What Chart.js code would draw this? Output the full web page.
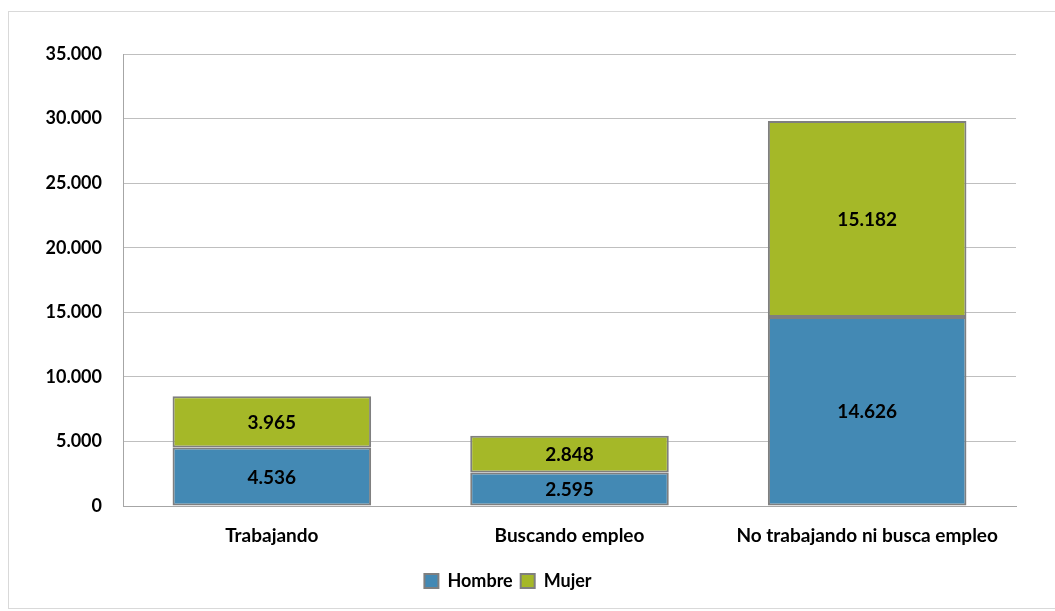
<!DOCTYPE html>
<html>
<head>
<meta charset="utf-8">
<script src="https://cdn.jsdelivr.net/npm/chart.js@4"></script>
<style>
  html, body { margin: 0; padding: 0; background: #fff; }
  body { width: 1055px; height: 611px; position: relative; overflow: hidden; }
  #marco { position: absolute; left: 8px; top: 11px; width: 1100px; height: 596px; border: 1px solid #d9d9d9; }
  #wrap { position: absolute; left: 0; top: 0; width: 1055px; height: 611px; }
</style>
</head>
<body>
<div id="marco"></div>
<div id="wrap"><canvas id="grafico"></canvas></div>
<script>
// ── DATOS ─────────────────────────────────────
const CATEGORIAS = ["Trabajando", "Buscando empleo", "No trabajando ni busca empleo"];
const HOMBRE = [4536, 2595, 14626];
const MUJER  = [3965, 2848, 15182];
const Y_MAX  = 35000;
const Y_PASO = 5000;

const COLORES = {
  hombre: "#4389b4",
  mujer:  "#a5b828",
  borde:  "#7f7f7f",
};

const FUENTE = "Lato, 'Open Sans', sans-serif";

// Formato con punto de miles
function formatMiles(v) {
  return String(Math.round(v)).replace(/\B(?=(\d{3})+(?!\d))/g, ".");
}

// ── ETIQUETAS DENTRO DE LAS BARRAS ─────────────
const etiquetasBarras = {
  id: "etiquetasBarras",
  afterDatasetsDraw(chart) {
    const ctx = chart.ctx;
    ctx.save();
    ctx.font = "bold 19px " + FUENTE;
    ctx.fillStyle = "#000";
    ctx.textAlign = "center";
    ctx.textBaseline = "middle";
    chart.data.datasets.forEach((ds, i) => {
      chart.getDatasetMeta(i).data.forEach((bar, j) => {
        const y = (bar.y + bar.base) / 2;
        ctx.fillText(formatMiles(ds.data[j]), bar.x, y + 1);
      });
    });
    ctx.restore();
  }
};

// ── GRÁFICO ───────────────────────────────────
new Chart(document.getElementById("grafico"), {
  type: "bar",
  data: {
    labels: CATEGORIAS,
    datasets: [
      { label: "Hombre", data: HOMBRE, backgroundColor: COLORES.hombre },
      { label: "Mujer",  data: MUJER,  backgroundColor: COLORES.mujer  },
    ].map(d => ({
      ...d,
      borderColor: COLORES.borde,
      borderWidth: 2,
      borderSkipped: false,
      categoryPercentage: 1,
      barPercentage: 0.667,
    }))
  },
  options: {
    responsive: true,
    maintainAspectRatio: false,
    animation: false,
    layout: { padding: { top: 54, right: 39, bottom: 11, left: 0 } },
    plugins: {
      tooltip: { enabled: false },
      legend: {
        position: "bottom",
        labels: {
          color: "#000",
          font: { family: FUENTE, size: 18, weight: "bold" },
          boxWidth: 14,
          boxHeight: 14,
          padding: 8,
        }
      }
    },
    scales: {
      x: {
        stacked: true,
        grid: { display: false, drawTicks: false },
        border: { color: "#a6a6a6", width: 1 },
        ticks: {
          color: "#000",
          padding: 18,
          font: { family: FUENTE, size: 19, weight: "bold" },
          maxRotation: 0,
        },
        afterFit: s => { s.height = 58; },
      },
      y: {
        stacked: true,
        min: 0,
        max: Y_MAX,
        grid: { color: "#bfbfbf", drawTicks: false },
        border: { color: "#a6a6a6", width: 1 },
        ticks: {
          stepSize: Y_PASO,
          color: "#000",
          padding: 21,
          font: { family: FUENTE, size: 18, weight: "bold" },
          callback: v => formatMiles(v),
        },
        afterFit: s => { s.width = 123; },
      }
    }
  },
  plugins: [etiquetasBarras]
});
</script>
</body>
</html>
